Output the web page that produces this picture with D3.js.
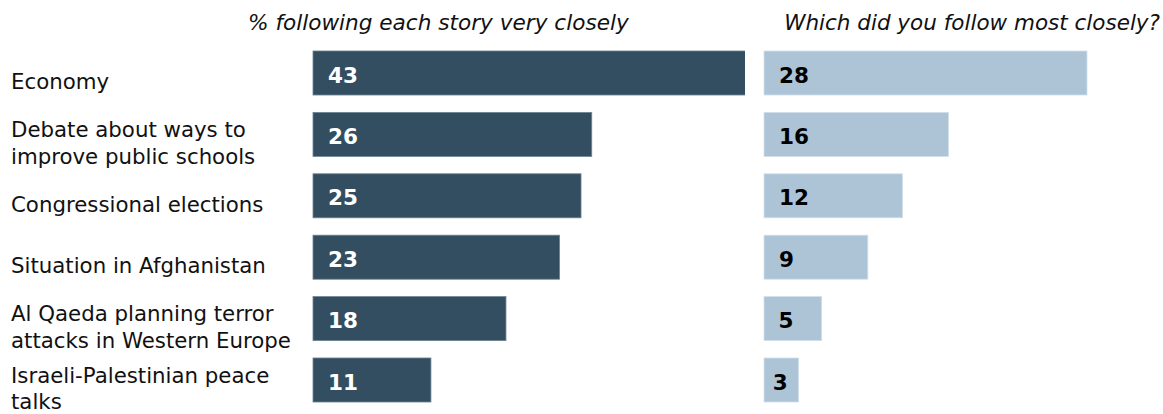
<!DOCTYPE html>
<html>
<head>
<meta charset="utf-8">
<script src="https://cdn.jsdelivr.net/npm/d3@7"></script>
<style>
  body { margin: 0; background: #fff; }
  text { font-family: "DejaVu Sans", Verdana, sans-serif; }
</style>
</head>
<body>
<div id="chart"></div>
<script>
// Stories (line breaks as shown in the chart)
const categories = [
    "Economy",
    "Debate about ways to\nimprove public schools",
    "Congressional elections",
    "Situation in Afghanistan",
    "Al Qaeda planning terror\nattacks in Western Europe",
    "Israeli-Palestinian peace\ntalks"
];
// % following each story very closely
const veryClosely = [43, 26, 25, 23, 18, 11];
// Which did you follow most closely?
const mostClosely = [28, 16, 12, 9, 5, 3];

const titleLeft = "% following each story very closely";
const titleRight = "Which did you follow most closely?";

const width = 1163, height = 414;

const svg = d3.select("#chart")
    .append("svg")
    .attr("width", width)
    .attr("height", height);

// Row scale
const y = d3.scaleBand()
    .domain(categories)
    .range([42.3, 410.7])
    .paddingInner(0.283)
    .paddingOuter(0.1415);

// Panel scales
const leftX0 = 313, rightX0 = 764;
const xLeft = d3.scaleLinear().domain([0, 43]).range([0, 461]);
const xRight = d3.scaleLinear().domain([0, 28]).range([0, 323]);

// the big economy bar runs into the second panel, so it gets cut off
svg.append("clipPath")
    .attr("id", "clip-left")
    .append("rect")
    .attr("x", leftX0 - 2)
    .attr("y", 0)
    .attr("width", rightX0 - 19 - leftX0 + 2)
    .attr("height", height);

// Titles
svg.append("text")
    .attr("x", 248)
    .attr("y", 30)
    .attr("font-size", 21.6)
    .attr("font-style", "italic")
    .attr("fill", "#111")
    .text(titleLeft);

svg.append("text")
    .attr("x", 1160)
    .attr("y", 30)
    .attr("text-anchor", "end")
    .attr("font-size", 21.5)
    .attr("font-style", "italic")
    .attr("fill", "#111")
    .text(titleRight);

// Category labels
const labels = svg.append("g")
    .selectAll("text")
    .data(categories)
    .join("text")
    .attr("font-size", 21.3)
    .attr("fill", "#111");

labels.each(function(d) {
    const lines = d.split("\n");
    const cy = y(d) + y.bandwidth() / 2;
    const first = cy + 16 - (lines.length - 1) * 13.25;
    d3.select(this).selectAll("tspan")
        .data(lines)
        .join("tspan")
        .attr("x", 11)
        .attr("y", (l, i) => first + i * 26.5)
        .text(l => l);
});

// Left bars
const gLeft = svg.append("g").attr("clip-path", "url(#clip-left)");
gLeft.selectAll("rect")
    .data(veryClosely)
    .join("rect")
    .attr("x", leftX0)
    .attr("y", (d, i) => y(categories[i]))
    .attr("width", d => xLeft(d))
    .attr("height", y.bandwidth())
    .attr("fill", "#334e60")
    .attr("stroke", "#6d8494")
    .attr("stroke-width", 0.8);

svg.append("g")
    .selectAll("text")
    .data(veryClosely)
    .join("text")
    .attr("x", d => leftX0 + Math.min(15, xLeft(d) / 4))
    .attr("y", (d, i) => y(categories[i]) + y.bandwidth() / 2 + 9.5)
    .attr("font-size", 21.5)
    .attr("font-weight", "bold")
    .attr("fill", "#fff")
    .text(d => d);

// Right bars
svg.append("g")
    .selectAll("rect")
    .data(mostClosely)
    .join("rect")
    .attr("x", rightX0)
    .attr("y", (d, i) => y(categories[i]))
    .attr("width", d => xRight(d))
    .attr("height", y.bandwidth())
    .attr("fill", "#adc4d7")
    .attr("stroke", "#d3e0ea")
    .attr("stroke-width", 0.8);

svg.append("g")
    .selectAll("text")
    .data(mostClosely)
    .join("text")
    .attr("x", d => rightX0 + Math.min(15, xRight(d) / 4))
    .attr("y", (d, i) => y(categories[i]) + y.bandwidth() / 2 + 9.5)
    .attr("font-size", 21.5)
    .attr("font-weight", "bold")
    .attr("fill", "#000")
    .text(d => d);
</script>
</body>
</html>
